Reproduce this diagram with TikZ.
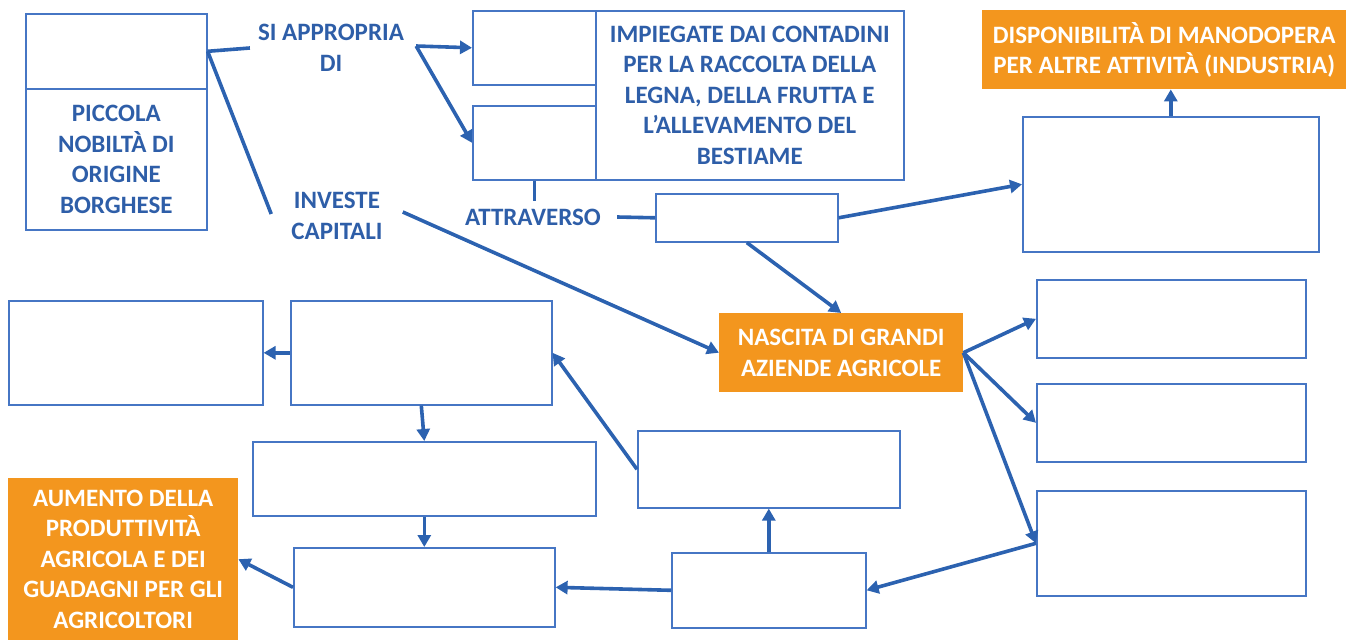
\documentclass[tikz,border=0pt]{standalone}
\usepackage{fontspec}
\setmainfont{Carlito}
\usetikzlibrary{arrows.meta}
\definecolor{lineblue}{RGB}{44,98,176}
\definecolor{boxblue}{RGB}{70,118,196}
\definecolor{textblue}{RGB}{46,94,168}
\definecolor{orangebox}{RGB}{243,150,30}
\begin{document}
\begin{tikzpicture}[x=1pt,y=-1pt,
                font=\fontsize{25}{30.5}\selectfont\bfseries,
                box/.style={draw=boxblue, line width=1.6pt, anchor=north west,
                    align=center, text=textblue, inner sep=0pt},
                hot/.style={fill=orangebox, anchor=north west, align=center,
                    text=white, inner sep=0pt},
                lbl/.style={text=textblue, align=center, inner sep=8pt},
                conn/.style={draw=lineblue, line width=3.6pt},
                arr/.style={conn, -{Triangle[length=12pt,width=13pt]}}]
            \useasboundingbox (0,0) rectangle (1366,640);
            \node[box, minimum width=181pt, minimum height=75pt] (nobtop) at (25,13) {};
            \node[box, minimum width=181pt, minimum height=141pt] (nob) at (25,88)
                {PICCOLA\\NOBILTÀ DI\\ORIGINE\\BORGHESE};
            \node[lbl] (appr) at (331,48) {SI APPROPRIA\\DI};
            \node[lbl] (inv) at (337,216) {INVESTE\\CAPITALI};
            \node[box, minimum width=123pt, minimum height=74pt] (sma) at (472,10) {};
            \node[box, minimum width=123pt, minimum height=74pt] (smb) at (472,105) {};
            \node[box, minimum width=308pt, minimum height=169pt] (impieg) at (595,10)
                {IMPIEGATE DAI CONTADINI\\PER LA RACCOLTA DELLA\\LEGNA, DELLA FRUTTA E\\L’ALLEVAMENTO DEL\\BESTIAME};
            \node[lbl] (attr) at (533,217) {ATTRAVERSO};
            \node[box, minimum width=182pt, minimum height=48pt] (via) at (655,193) {};
            \node[box, minimum width=296pt, minimum height=135pt] (dest) at (1022,116) {};
            \node[hot, minimum width=364pt, minimum height=79pt] (manod) at (982,10)
                {DISPONIBILITÀ DI MANODOPERA\\PER ALTRE ATTIVITÀ (INDUSTRIA)};
            \node[hot, minimum width=244pt, minimum height=79pt] (nascita) at (719,313)
                {NASCITA DI GRANDI\\AZIENDE AGRICOLE};
            \node[box, minimum width=269pt, minimum height=78pt] (ra) at (1036,279) {};
            \node[box, minimum width=269pt, minimum height=78pt] (rb) at (1036,383) {};
            \node[box, minimum width=269pt, minimum height=105pt] (rc) at (1036,490) {};
            \node[box, minimum width=194pt, minimum height=75pt] (ba) at (671,552) {};
            \node[box, minimum width=262pt, minimum height=77pt] (bb) at (637,430) {};
            \node[box, minimum width=261pt, minimum height=104pt] (bc) at (290,300) {};
            \node[box, minimum width=254pt, minimum height=104pt] (bd) at (8,300) {};
            \node[box, minimum width=343pt, minimum height=74pt] (be) at (252,441) {};
            \node[box, minimum width=261pt, minimum height=79pt] (bf) at (293,547) {};
            \node[hot, minimum width=230pt, minimum height=162pt] (aumento) at (8,478)
                {AUMENTO DELLA\\PRODUTTIVITÀ\\AGRICOLA E DEI\\GUADAGNI PER GLI\\AGRICOLTORI};
            \coordinate (invtip) at ([xshift=-12pt,yshift=2pt]inv.west);
            \coordinate (invout) at ([xshift=12pt,yshift=4pt]inv.east);
            \coordinate (fork) at ([xshift=4pt,yshift=2pt]appr.east);
            \draw[conn] (nobtop.east) -- (appr.west);
            \draw[conn] (nobtop.east) -- (invtip);
            \draw[arr] (fork) -- (sma.west);
            \draw[arr] (fork) -- (smb.west);
            \draw[conn] (smb.south) -- (smb.south |- attr.north);
            \draw[conn] ([xshift=8pt]attr.east) -- (via.west);
            \draw[arr] (via.east) -- (dest.west);
            \draw[arr] (dest.north) -- (dest.north |- manod.south);
            \draw[arr] (via.south) -- (nascita.north);
            \draw[arr] (invout) -- (nascita.west);
            \draw[arr] (nascita.east) -- (ra.west);
            \draw[arr] (nascita.east) -- (rb.west);
            \draw[arr] (nascita.east) -- (rc.west);
            \draw[arr] (rc.west) -- (ba.east);
            \draw[arr] (ba.north) -- (bb.south);
            \draw[arr] (bb.west) -- (bc.east);
            \draw[arr] (bc.west) -- (bd.east);
            \draw[arr] (bc.south) -- (be.north);
            \draw[arr] (be.south) -- (bf.north);
            \draw[arr] (ba.west) -- (bf.east);
            \draw[arr] (bf.west) -- (aumento.east);
        \end{tikzpicture}
\end{document}
